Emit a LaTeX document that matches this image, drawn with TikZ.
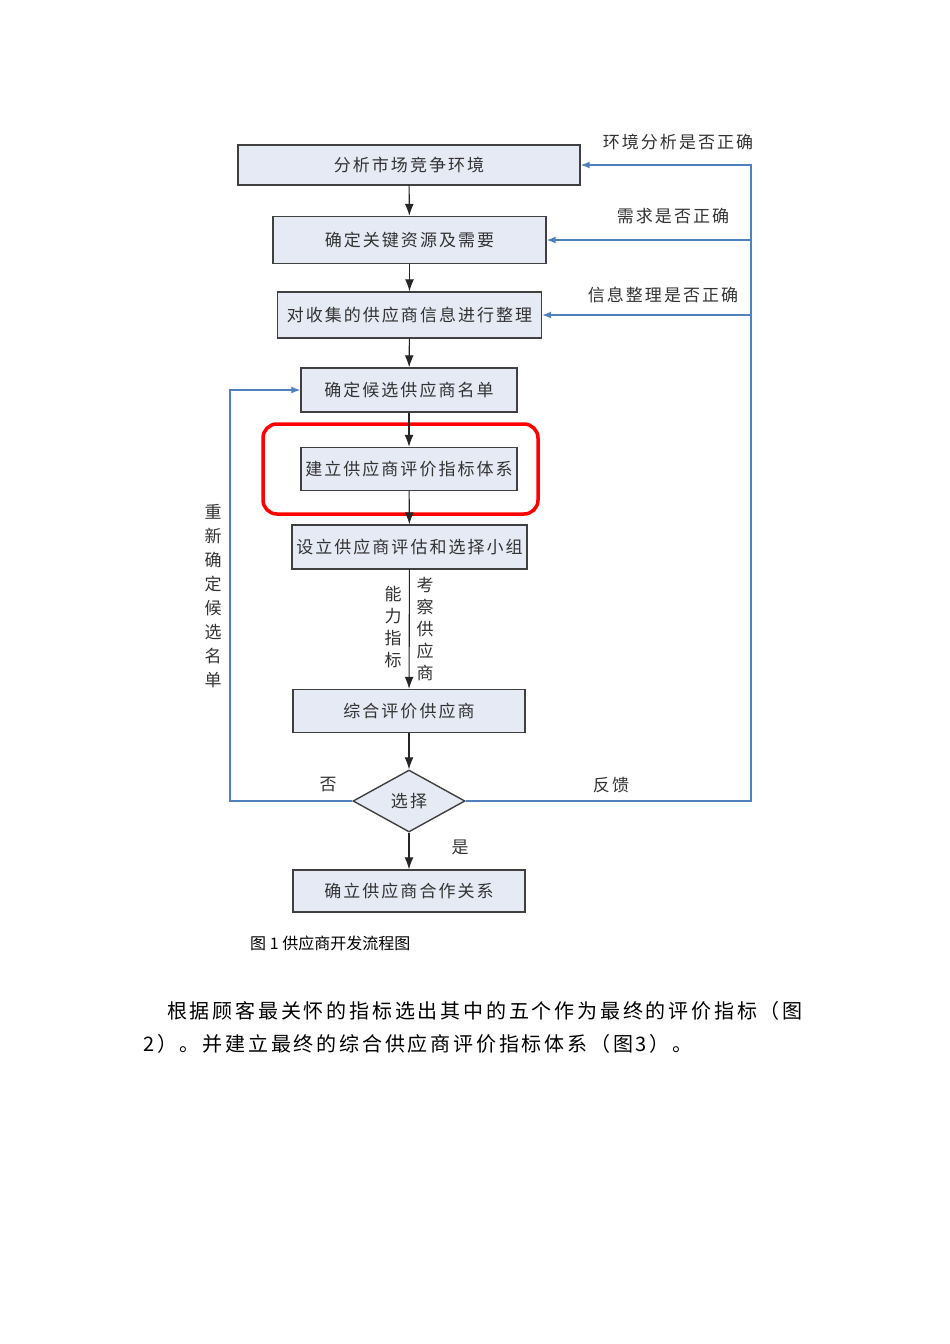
\documentclass[tikz,border=0pt]{standalone}
\usepackage{fontspec}
\newfontfamily\cjk{Noto Sans CJK SC}
\newfontfamily\cjkbox[LetterSpace=12]{Noto Sans CJK SC}
\newfontfamily\cjktext[LetterSpace=14]{Noto Sans CJK SC}
\usetikzlibrary{shapes.geometric}
\usetikzlibrary{positioning}
\usetikzlibrary{arrows.meta}
\definecolor{boxfill}{RGB}{230,234,245}
\definecolor{fbblue}{RGB}{79,129,189}

\begin{document}
\begin{tikzpicture}[x=1pt,y=-1pt,
  stepbox/.style={rectangle,draw=black!75,line width=1.4pt,fill=boxfill,inner sep=0pt,
    font=\cjkbox\fontsize{17}{20}\selectfont,text=black!80},
  flow/.style={-{Latex[length=12pt,width=9pt]},line width=1.1pt,black!85},
  fbline/.style={fbblue,line width=1.3pt},
  fbarrow/.style={fbline,-{Latex[length=9pt,width=7pt]}},
  lbl/.style={font=\cjkbox\fontsize{17}{20}\selectfont,text=black!80,inner sep=0pt},
  vlbl/.style={font=\cjk\fontsize{17}{22}\selectfont,text=black!80,align=center,inner sep=0pt}]
\useasboundingbox[fill=white] (0,0) rectangle (950,1344);

% main steps
\node[stepbox,minimum width=342pt,minimum height=40pt] (analyse) at (409,165) {分析市场竞争环境};
\node[stepbox,minimum width=273pt,minimum height=47pt] (resource) at (409.5,240) {确定关键资源及需要};
\node[stepbox,minimum width=264pt,minimum height=46pt] (collate) at (409.5,315) {对收集的供应商信息进行整理};
\node[stepbox,minimum width=216pt,minimum height=44pt] (candidate) at (409,390) {确定候选供应商名单};
\node[stepbox,minimum width=216pt,minimum height=43pt] (indexsys) at (409,469) {建立供应商评价指标体系};
\node[stepbox,minimum width=235pt,minimum height=44pt] (team) at (409.5,547) {设立供应商评估和选择小组};
\node[stepbox,minimum width=232pt,minimum height=43pt] (evaluate) at (409,711) {综合评价供应商};
\node[stepbox,shape=diamond,aspect=1.8,minimum width=112pt,minimum height=62pt] (select) at (409,801) {选择};
\node[stepbox,minimum width=232pt,minimum height=42pt] (partner) at (409,891) {确立供应商合作关系};

% highlight
\draw[red,line width=3.5pt,rounded corners=14pt] (263,424) rectangle (538,514);

\draw[flow] (analyse) -- (resource);
\draw[flow] (resource) -- (collate);
\draw[flow] (collate) -- (candidate);
\draw[flow] (candidate) -- (indexsys);
\draw[flow] (indexsys) -- (team);
\draw[flow] (team) -- (evaluate);
\draw[flow] (evaluate) -- (select);
\draw[flow] (select) -- (partner);

% feedback lines
\coordinate (fbr) at (751,801);
\coordinate (fbt) at (751,165);
\coordinate (nol) at (230,801);
\draw[fbarrow] (select.east) -- (fbr) -- (fbt) -- (analyse.east);
\draw[fbarrow] (resource.east -| fbr) -- (resource.east);
\draw[fbarrow] (collate.east -| fbr) -- (collate.east);
\draw[fbarrow] (select.west) -- (nol) |- (candidate.west);

% labels
\node[lbl] (envok) at (678,142) {环境分析是否正确};
\node[lbl] (needok) at (673,216) {需求是否正确};
\node[lbl] (infook) at (663,295) {信息整理是否正确};
\node[lbl] (feedback) at (611,785) {反馈};
\node[lbl] (no) at (328,785) {否};
\node[lbl] (yes) at (460,847) {是};
\node[vlbl,font=\cjk\fontsize{17}{24}\selectfont] (redo) at (213,596) {重\\新\\确\\定\\候\\选\\名\\单};
\node[vlbl] (ability) at (393,627) {能\\力\\指\\标};
\node[vlbl] (inspect) at (425,629) {考\\察\\供\\应\\商};

% caption and text
\node[font=\cjk\fontsize{16}{18}\selectfont,anchor=west,inner sep=0pt] (caption) at (250,943) {图 1 供应商开发流程图};
\node[font=\cjktext\fontsize{20}{24}\selectfont,anchor=west,inner sep=0pt] (line1) at (167,1011) {根据顾客最关怀的指标选出其中的五个作为最终的评价指标（图};
\node[font=\cjktext\fontsize{20}{24}\selectfont,anchor=west,inner sep=0pt] (line2) at (143,1044) {2）。并建立最终的综合供应商评价指标体系（图3）。};

\end{tikzpicture}
\end{document}
